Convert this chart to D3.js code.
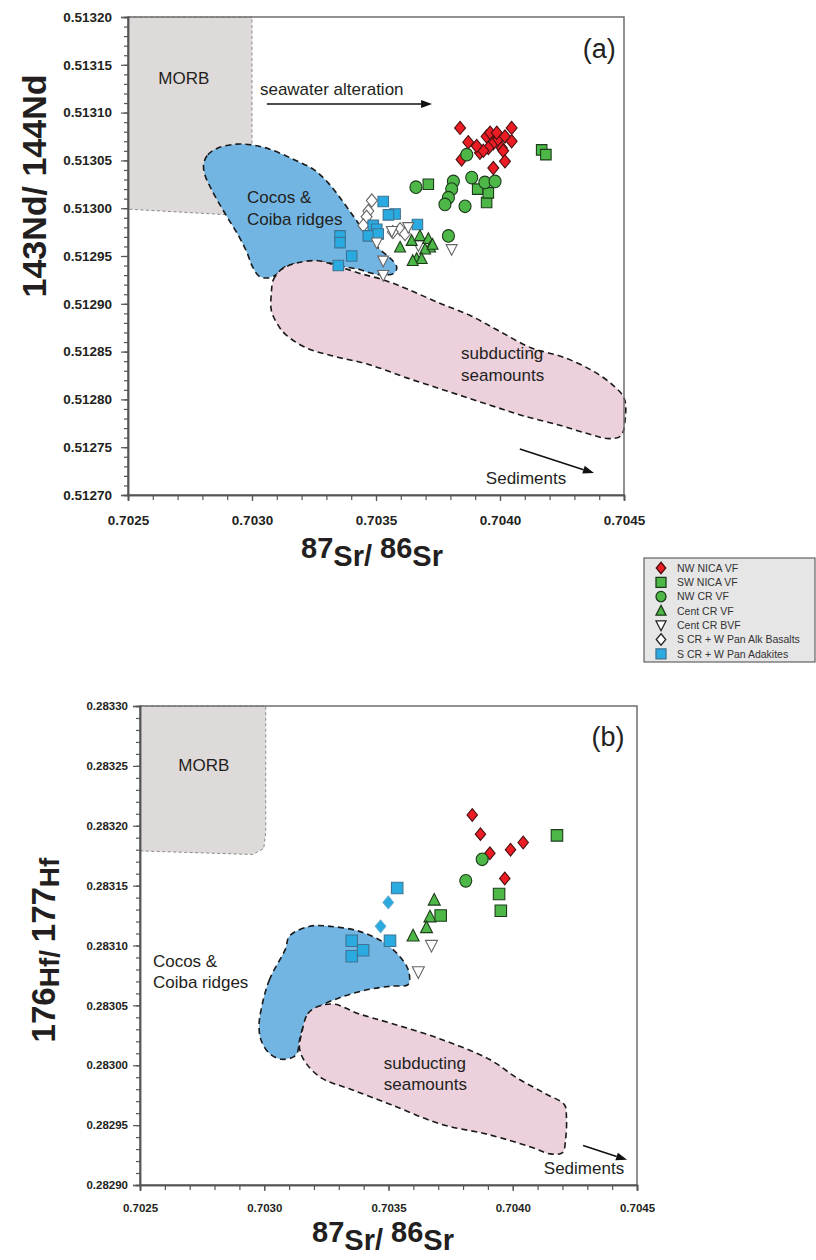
<!DOCTYPE html>
<html>
<head>
<meta charset="utf-8">
<script src="https://cdn.jsdelivr.net/npm/d3@7"></script>
<style>
  body { margin: 0; background: #fff; }
  svg { display: block; font-family: "Liberation Sans", Arial, sans-serif; }
</style>
</head>
<body>
<svg id="fig" width="816" height="1260"></svg>
<script>
// ---------------- axis domains and tick labels ----------------
const srDomain = [0.7025, 0.7045];
const srTicks = [0.7025, 0.7030, 0.7035, 0.7040, 0.7045];
const ndDomain = [0.51270, 0.51320];
const ndTicks = [0.51270, 0.51275, 0.51280, 0.51285, 0.51290, 0.51295, 0.51300, 0.51305, 0.51310, 0.51315, 0.51320];
const hfDomain = [0.28290, 0.28330];
const hfTicks = [0.28290, 0.28295, 0.28300, 0.28305, 0.28310, 0.28315, 0.28320, 0.28325, 0.28330];

// ---------------- legend ----------------
const seriesNames = ["NW NICA VF", "SW NICA VF", "NW CR VF", "Cent CR VF", "Cent CR BVF",
                     "S CR + W Pan Alk Basalts", "S CR + W Pan Adakites"];

// ---------------- Sr-Nd data [87Sr/86Sr, 143Nd/144Nd] ----------------
const ndNwNicaVF = [
  [0.703839, 0.513084], [0.703872, 0.513069], [0.703845, 0.513051], [0.703919, 0.513058],
  [0.703946, 0.513075], [0.703960, 0.513079], [0.703973, 0.513068], [0.703993, 0.513072],
  [0.704007, 0.513063], [0.704020, 0.513075], [0.704047, 0.513084], [0.704047, 0.513070],
  [0.704013, 0.513060], [0.704020, 0.513049], [0.703973, 0.513042], [0.703953, 0.513063],
  [0.703933, 0.513060], [0.703987, 0.513079], [0.703906, 0.513065]
];
const ndSwNicaVF = [
  [0.703711, 0.513025], [0.703946, 0.513006], [0.703910, 0.513020], [0.703953, 0.513016],
  [0.704168, 0.513061], [0.704185, 0.513056]
];
const ndNwCrVF = [
  [0.703866, 0.513056], [0.703661, 0.513022], [0.703812, 0.513028], [0.703805, 0.513020],
  [0.703792, 0.513011], [0.703778, 0.513004], [0.703859, 0.513002], [0.703886, 0.513032],
  [0.703939, 0.513027], [0.703980, 0.513028], [0.703792, 0.512971]
];
const ndCentCrVF = [
  [0.703597, 0.512959], [0.703644, 0.512966], [0.703677, 0.512971], [0.703711, 0.512968],
  [0.703718, 0.512959], [0.703698, 0.512957], [0.703664, 0.512947], [0.703684, 0.512947],
  [0.703648, 0.512945], [0.703728, 0.512962]
];
const ndCentCrBVF = [
  [0.703630, 0.512980], [0.703671, 0.512961], [0.703529, 0.512945], [0.703529, 0.512930],
  [0.703805, 0.512957], [0.703503, 0.512964], [0.703564, 0.512976]
];
const ndAlkBasalts = [
  [0.703483, 0.513008], [0.703469, 0.512997], [0.703462, 0.512991], [0.703449, 0.512982],
  [0.703597, 0.512978], [0.703617, 0.512973], [0.703568, 0.512975]
];
const ndAdakites = [
  [0.703529, 0.513007], [0.703577, 0.512994], [0.703550, 0.512993], [0.703489, 0.512982],
  [0.703503, 0.512978], [0.703469, 0.512971], [0.703509, 0.512973], [0.703667, 0.512983],
  [0.703355, 0.512971], [0.703355, 0.512964], [0.703402, 0.512950], [0.703348, 0.512940]
];

// ---------------- Sr-Hf data [87Sr/86Sr, 176Hf/177Hf] ----------------
const hfNwNicaVF = [
  [0.703837, 0.283209], [0.703870, 0.283193], [0.703908, 0.283177], [0.703991, 0.283180],
  [0.704042, 0.283186], [0.703968, 0.283156]
];
const hfSwNicaVF = [
  [0.704178, 0.283192], [0.703945, 0.283143], [0.703952, 0.283129], [0.703710, 0.283125]
];
const hfNwCrVF = [[0.703877, 0.283172], [0.703811, 0.283154]];
const hfCentCrVF = [
  [0.703684, 0.283138], [0.703667, 0.283124], [0.703653, 0.283115], [0.703599, 0.283108]
];
const hfCentCrBVF = [[0.703673, 0.283100], [0.703620, 0.283078]];
const hfAlkBasalts = [[0.703499, 0.283136], [0.703468, 0.283116]];
const hfAdakites = [
  [0.703535, 0.283148], [0.703506, 0.283104], [0.703352, 0.283104], [0.703352, 0.283091],
  [0.703398, 0.283096]
];

// ---------------- reference fields ----------------
const ndMorb = [
  [0.7025, 0.51320], [0.7030, 0.51320], [0.7030, 0.513000], [0.702995, 0.512994],
  [0.702980, 0.512992], [0.7025, 0.512999]
];
const ndRidges = [
  [0.702805, 0.513046], [0.702822, 0.513056], [0.702863, 0.513063], [0.702937, 0.513067],
  [0.703003, 0.513066], [0.703069, 0.513062], [0.703168, 0.513051], [0.703251, 0.513040],
  [0.703309, 0.513026], [0.703366, 0.513007], [0.703416, 0.512989], [0.703465, 0.512971],
  [0.703515, 0.512957], [0.703564, 0.512946], [0.703584, 0.512938], [0.703573, 0.512932],
  [0.703540, 0.512930], [0.703482, 0.512932], [0.703432, 0.512936], [0.703366, 0.512939],
  [0.703284, 0.512944], [0.703201, 0.512943], [0.703135, 0.512939], [0.703094, 0.512930],
  [0.703061, 0.512927], [0.703028, 0.512929], [0.703000, 0.512940], [0.702979, 0.512954],
  [0.702946, 0.512971], [0.702904, 0.512989], [0.702863, 0.513007], [0.702830, 0.513023],
  [0.702810, 0.513035]
];
const ndSeamounts = [
  [0.703078, 0.512911], [0.703086, 0.512925], [0.703119, 0.512936], [0.703185, 0.512943],
  [0.703267, 0.512945], [0.703350, 0.512939], [0.703432, 0.512932], [0.703531, 0.512925],
  [0.703630, 0.512915], [0.703762, 0.512900], [0.703878, 0.512888], [0.703993, 0.512872],
  [0.704125, 0.512854], [0.704257, 0.512844], [0.704373, 0.512830], [0.704455, 0.512815],
  [0.704501, 0.512801], [0.704505, 0.512780], [0.704488, 0.512762], [0.704439, 0.512759],
  [0.704356, 0.512764], [0.704241, 0.512773], [0.704092, 0.512783], [0.703960, 0.512794],
  [0.703795, 0.512808], [0.703630, 0.512822], [0.703465, 0.512837], [0.703333, 0.512845],
  [0.703218, 0.512854], [0.703135, 0.512868], [0.703102, 0.512879], [0.703078, 0.512893]
];
const hfMorb = [
  [0.7025, 0.28330], [0.703006, 0.28330], [0.703006, 0.283195], [0.702998, 0.283181],
  [0.702954, 0.283176], [0.7025, 0.283179]
];
const hfRidges = [
  [0.702987, 0.283046], [0.703020, 0.283071], [0.703085, 0.283097], [0.703102, 0.283108],
  [0.703183, 0.283116], [0.703265, 0.283116], [0.703380, 0.283112], [0.703478, 0.283103],
  [0.703536, 0.283093], [0.703577, 0.283081], [0.703585, 0.283071], [0.703577, 0.283067],
  [0.703511, 0.283066], [0.703413, 0.283063], [0.703298, 0.283056], [0.703216, 0.283048],
  [0.703167, 0.283037], [0.703142, 0.283021], [0.703134, 0.283011], [0.703118, 0.283007],
  [0.703069, 0.283005], [0.703020, 0.283010], [0.702987, 0.283021], [0.702979, 0.283033]
];
const hfSeamounts = [
  [0.703151, 0.283027], [0.703175, 0.283043], [0.703216, 0.283049], [0.703282, 0.283051],
  [0.703380, 0.283043], [0.703511, 0.283035], [0.703708, 0.283022], [0.703905, 0.283005],
  [0.704020, 0.282989], [0.704134, 0.282976], [0.704208, 0.282967], [0.704216, 0.282957],
  [0.704213, 0.282939], [0.704200, 0.282927], [0.704151, 0.282926], [0.704069, 0.282932],
  [0.703905, 0.282942], [0.703708, 0.282951], [0.703511, 0.282967], [0.703347, 0.282980],
  [0.703233, 0.282989], [0.703167, 0.283002], [0.703142, 0.283014]
];

// ---------------- styles ----------------
const RED = "#ec1c24", GREEN = "#4db848", BLUE = "#29abe2";
const styles = [
  { shape: "diamond", fill: RED, stroke: "#4a1010" },
  { shape: "square", fill: GREEN, stroke: "#1d3b1a" },
  { shape: "circle", fill: GREEN, stroke: "#1d3b1a" },
  { shape: "triangle", fill: GREEN, stroke: "#1d3b1a" },
  { shape: "triangleDown", fill: "#fff", stroke: "#666" },
  { shape: "diamond", fill: "#fff", stroke: "#666" },
  { shape: "square", fill: BLUE, stroke: "#3f7391" }
];

function markerPath(shape, s) {
  const h = s / 2;
  switch (shape) {
    case "square": return `M${-h},${-h}H${h}V${h}H${-h}Z`;
    case "diamond": return `M0,${-h * 1.15}L${h * 0.95},0L0,${h * 1.15}L${-h * 0.95},0Z`;
    case "circle": return `M${h},0A${h},${h * 1.05} 0 1 1 ${-h},0A${h},${h * 1.05} 0 1 1 ${h},0Z`;
    case "triangle": return `M0,${-h * 1.1}L${h * 1.0},${h * 0.85}L${-h * 1.0},${h * 0.85}Z`;
    case "triangleDown": return `M0,${h * 1.1}L${h * 1.0},${-h * 0.85}L${-h * 1.0},${-h * 0.85}Z`;
  }
}

const svg = d3.select("#fig");
svg.append("rect").attr("width", 816).attr("height", 1260).attr("fill", "#fff");

function drawPanel(cfg) {
  const x = d3.scaleLinear().domain(srDomain).range([cfg.left, cfg.right]);
  const y = d3.scaleLinear().domain(cfg.yDomain).range([cfg.bottom, cfg.top]);
  const g = svg.append("g");
  const line = d3.line().x(d => x(d[0])).y(d => y(d[1]));
  const smooth = d3.line().x(d => x(d[0])).y(d => y(d[1])).curve(d3.curveCatmullRomClosed.alpha(0.5));

  // fields
  g.append("path").attr("d", line(cfg.morb) + "Z")
    .attr("fill", "#dedada").attr("stroke", "#8a8a8a").attr("stroke-width", 1)
    .attr("stroke-dasharray", "3,2.5");
  g.append("path").attr("d", smooth(cfg.ridges))
    .attr("fill", "#72b5e3").attr("stroke", "#1a1a1a").attr("stroke-width", 1.6)
    .attr("stroke-dasharray", "6,4");
  g.append("path").attr("d", smooth(cfg.seamounts))
    .attr("fill", "#ecd1dd").attr("stroke", "#1a1a1a").attr("stroke-width", 1.6)
    .attr("stroke-dasharray", "6,4");

  // field labels and annotations
  const ann = g.append("g").attr("fill", "#231f20").attr("font-size", cfg.annSize);
  ann.append("text").attr("x", x(cfg.morbLabel[0])).attr("y", y(cfg.morbLabel[1]))
    .attr("text-anchor", "middle").text("MORB");
  cfg.ridgeLabel.lines.forEach((t, i) => {
    ann.append("text").attr("x", x(cfg.ridgeLabel.at[0]))
      .attr("y", y(cfg.ridgeLabel.at[1]) + i * cfg.lineGap).text(t);
  });
  cfg.seaLabel.lines.forEach((t, i) => {
    ann.append("text").attr("x", x(cfg.seaLabel.at[0]))
      .attr("y", y(cfg.seaLabel.at[1]) + i * cfg.lineGap).text(t);
  });
  ann.append("text").attr("x", x(cfg.sedLabel[0])).attr("y", y(cfg.sedLabel[1])).text("Sediments");
  ann.append("text").attr("x", x(cfg.tag.at[0])).attr("y", y(cfg.tag.at[1]))
    .attr("text-anchor", "middle").attr("font-size", 27).text(cfg.tag.text);

  cfg.arrows.forEach(a => {
    const x1 = x(a[0][0]), y1 = y(a[0][1]), x2 = x(a[1][0]), y2 = y(a[1][1]);
    const ang = Math.atan2(y2 - y1, x2 - x1);
    const L = 11, W = 4;
    const bx = x2 - L * Math.cos(ang), by = y2 - L * Math.sin(ang);
    g.append("line").attr("x1", x1).attr("y1", y1).attr("x2", bx).attr("y2", by)
      .attr("stroke", "#111").attr("stroke-width", 1.6);
    g.append("path")
      .attr("d", `M${x2},${y2}L${bx - W * Math.sin(ang)},${by + W * Math.cos(ang)}L${bx + W * Math.sin(ang)},${by - W * Math.cos(ang)}Z`)
      .attr("fill", "#111");
  });
  if (cfg.seaText) {
    ann.append("text").attr("x", x(cfg.seaText[0])).attr("y", y(cfg.seaText[1])).text("seawater alteration");
  }

  // data points
  cfg.series.forEach(s => {
    const st = Object.assign({}, styles[s.style], s.override || {});
    g.append("g").selectAll("path").data(s.data).join("path")
      .attr("transform", d => `translate(${x(d[0])},${y(d[1])})`)
      .attr("d", markerPath(st.shape, cfg.markerSize[st.shape]))
      .attr("fill", st.fill).attr("stroke", st.stroke).attr("stroke-width", 1.1);
  });

  // frame
  g.append("rect").attr("x", cfg.left).attr("y", cfg.top)
    .attr("width", cfg.right - cfg.left).attr("height", cfg.bottom - cfg.top)
    .attr("fill", "none").attr("stroke", "#6d6d6d").attr("stroke-width", 1.5);

  // axes: minor ticks
  const yMinor = d3.range(0, Math.round((cfg.yDomain[1] - cfg.yDomain[0]) / 0.00001) + 1)
    .map(i => cfg.yDomain[0] + i * 0.00001);
  const xMinor = d3.range(0, 21).map(i => srDomain[0] + i * 0.0001);
  const axStyle = sel => {
    sel.select(".domain").attr("stroke", "#555").attr("stroke-width", 1.5);
    sel.selectAll(".tick line").attr("stroke", "#555").attr("stroke-width", 1.2);
  };
  g.append("g").attr("transform", `translate(${cfg.left},0)`)
    .call(d3.axisLeft(y).tickValues(yMinor).tickSize(4).tickFormat(""))
    .call(axStyle);
  g.append("g").attr("transform", `translate(0,${cfg.bottom})`)
    .call(d3.axisBottom(x).tickValues(xMinor).tickSize(5).tickFormat(""))
    .call(axStyle);
  // major ticks with labels
  const ya = g.append("g").attr("transform", `translate(${cfg.left},0)`)
    .call(d3.axisLeft(y).tickValues(cfg.yTicks).tickSize(7).tickPadding(cfg.yPad)
      .tickFormat(d3.format(".5f")))
    .call(axStyle);
  ya.selectAll("text").attr("font-family", "Liberation Sans, Arial, sans-serif")
    .attr("font-weight", "bold").attr("font-size", cfg.tickSize).attr("fill", "#231f20");
  const xa = g.append("g").attr("transform", `translate(0,${cfg.bottom})`)
    .call(d3.axisBottom(x).tickValues(srTicks).tickSize(6).tickPadding(cfg.xPad)
      .tickFormat(d3.format(".4f")))
    .call(axStyle);
  xa.selectAll("text").attr("font-family", "Liberation Sans, Arial, sans-serif")
    .attr("font-weight", "bold").attr("font-size", cfg.tickSize).attr("fill", "#231f20");

  // axis titles
  const xt = g.append("text").attr("x", cfg.xTitle[0]).attr("y", cfg.xTitle[1])
    .attr("text-anchor", "middle").attr("font-weight", "bold").attr("font-size", 29)
    .attr("fill", "#231f20");
  xt.append("tspan").text("87");
  xt.append("tspan").attr("dy", 8).text("Sr/ ");
  xt.append("tspan").attr("dy", -8).text("86");
  xt.append("tspan").attr("dy", 8).text("Sr");

  const yt = g.append("text")
    .attr("transform", `translate(${cfg.yTitle[0]},${cfg.yTitle[1]}) rotate(-90)`)
    .attr("text-anchor", "middle").attr("font-weight", "bold").attr("font-size", cfg.yTitleSize)
    .attr("fill", "#231f20");
  cfg.yTitleParts.forEach(p => {
    const ts = yt.append("tspan").attr("dy", p[1]).text(p[0]);
    if (p[2]) ts.attr("font-size", p[2]);
  });
}

// ---------------- panel (a): Nd vs Sr ----------------
drawPanel({
  left: 128, right: 624, top: 17, bottom: 495,
  yDomain: ndDomain, yTicks: ndTicks,
  tickSize: 13.5, yPad: 9, xPad: 14,
  annSize: 17, lineGap: 22,
  markerSize: { square: 10.5, diamond: 11.5, circle: 12, triangle: 11, triangleDown: 11 },
  morb: ndMorb, ridges: ndRidges, seamounts: ndSeamounts,
  morbLabel: [0.702725, 0.51313],
  ridgeLabel: { at: [0.70298, 0.513005], lines: ["Cocos &", "Coiba ridges"] },
  seaLabel: { at: [0.703843, 0.512842], lines: ["subducting", "seamounts"] },
  sedLabel: [0.703943, 0.512712],
  seaText: [0.703032, 0.513118],
  tag: { at: [0.7044, 0.513157], text: "(a)" },
  arrows: [
    [[0.70306, 0.513109], [0.703726, 0.513109]],
    [[0.70408, 0.512748], [0.704379, 0.512723]]
  ],
  series: [
    { data: ndAlkBasalts, style: 5 },
    { data: ndAdakites, style: 6 },
    { data: ndCentCrBVF, style: 4 },
    { data: ndCentCrVF, style: 3 },
    { data: ndSwNicaVF, style: 1 },
    { data: ndNwNicaVF, style: 0 },
    { data: ndNwCrVF, style: 2 }
  ],
  xTitle: [372, 558],
  yTitle: [46, 186], yTitleSize: 34,
  yTitleParts: [["143Nd/ 144Nd", 0]]
});

// ---------------- panel (b): Hf vs Sr ----------------
drawPanel({
  left: 140, right: 637, top: 706, bottom: 1185,
  yDomain: hfDomain, yTicks: hfTicks,
  tickSize: 11.5, yPad: 5, xPad: 13,
  annSize: 17, lineGap: 21,
  markerSize: { square: 11.5, diamond: 11, circle: 12, triangle: 12, triangleDown: 12 },
  morb: hfMorb, ridges: hfRidges, seamounts: hfSeamounts,
  morbLabel: [0.702757, 0.283246],
  ridgeLabel: { at: [0.702552, 0.283082], lines: ["Cocos &", "Coiba ridges"] },
  seaLabel: { at: [0.703481, 0.282997], lines: ["subducting", "seamounts"] },
  sedLabel: [0.704125, 0.282909],
  seaText: null,
  tag: { at: [0.704383, 0.283267], text: "(b)" },
  arrows: [
    [[0.704283, 0.282933], [0.704460, 0.282921]]
  ],
  series: [
    { data: hfAdakites, style: 6 },
    { data: hfAlkBasalts, style: 5, override: { fill: BLUE, stroke: "#5aa9cf" } },
    { data: hfCentCrBVF, style: 4 },
    { data: hfCentCrVF, style: 3 },
    { data: hfSwNicaVF, style: 1 },
    { data: hfNwNicaVF, style: 0 },
    { data: hfNwCrVF, style: 2 }
  ],
  xTitle: [383, 1242],
  yTitle: [55, 950], yTitleSize: 33,
  yTitleParts: [["176", 0], ["Hf/ ", 4, 28], ["177", -4], ["Hf", 4, 28]]
});

// ---------------- legend ----------------
const legend = svg.append("g").attr("transform", "translate(644,558)");
legend.append("rect").attr("width", 171).attr("height", 104)
  .attr("fill", "#e6e6e6").attr("stroke", "#444").attr("stroke-width", 1);
seriesNames.forEach((name, i) => {
  const st = styles[i];
  const row = legend.append("g").attr("transform", `translate(17,${10 + i * 14.3})`);
  row.append("path").attr("d", markerPath(st.shape, 10))
    .attr("fill", st.fill).attr("stroke", st.fill === "#fff" ? "#222" : st.stroke)
    .attr("stroke-width", 1.3);
  row.append("text").attr("x", 16).attr("y", 3.8).attr("font-size", 10.5)
    .attr("fill", "#333").text(name);
});
</script>
</body>
</html>
